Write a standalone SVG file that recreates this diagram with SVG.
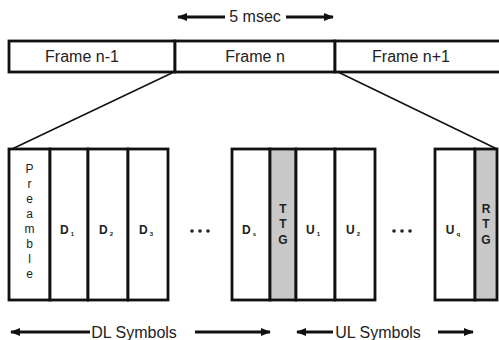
<svg xmlns="http://www.w3.org/2000/svg" width="499" height="340" viewBox="0 0 499 340">
<defs>
<marker id="ah" viewBox="0 0 10 10" refX="9" refY="5" markerWidth="10" markerHeight="10" markerUnits="userSpaceOnUse" orient="auto-start-reverse">
<path d="M0,1 L10,5 L0,9 Z" fill="#111"/>
</marker>
</defs>
<style>
text{font-family:"Liberation Sans",Arial,sans-serif;fill:#222;text-anchor:middle}
.lbl{font-size:16px}
.sym{font-size:12px}
.b{font-weight:bold}
.sub{font-size:6px}
.box{fill:#fff;stroke:#111;stroke-width:2.8}
.gray{fill:#c8c8c8;stroke:#111;stroke-width:2.8}
.arr{stroke:#111;stroke-width:2.8;fill:none}
.thin{stroke:#111;stroke-width:1.5;fill:none}
.dot{fill:#222}
</style>
<g id="duration">
<line class="arr" x1="225" y1="17" x2="178" y2="17" marker-end="url(#ah)"/>
<text class="lbl" x="255" y="22">5 msec</text>
<line class="arr" x1="286" y1="17" x2="333" y2="17" marker-end="url(#ah)"/>
</g>
<g id="frame-prev"><rect class="box" x="9" y="41" width="166" height="31"/><text class="lbl" x="82" y="62">Frame n-1</text></g>
<g id="frame-n"><rect class="box" x="175" y="41" width="160" height="31"/><text class="lbl" x="255" y="62">Frame n</text></g>
<g id="frame-next"><rect class="box" x="335" y="41" width="170" height="31"/><text class="lbl" x="411" y="62">Frame n+1</text></g>
<g id="connectors">
<line class="thin" x1="174" y1="72" x2="12" y2="149"/>
<line class="thin" x1="338" y1="72" x2="497" y2="149"/>
</g>
<g id="preamble"><rect class="box" x="9" y="149" width="41" height="151"/>
<text class="sym" x="29.5" y="173">P</text><text class="sym" x="29.5" y="188">r</text><text class="sym" x="29.5" y="203">e</text><text class="sym" x="29.5" y="218">a</text><text class="sym" x="29.5" y="233">m</text><text class="sym" x="29.5" y="248">b</text><text class="sym" x="29.5" y="263">l</text><text class="sym" x="29.5" y="278">e</text></g>
<g id="d1"><rect class="box" x="50" y="149" width="38" height="151"/><text class="sym b" x="67" y="234">D<tspan class="sub" dx="2" dy="2">1</tspan></text></g>
<g id="d2"><rect class="box" x="88" y="149" width="40" height="151"/><text class="sym b" x="106" y="234">D<tspan class="sub" dx="2" dy="2">2</tspan></text></g>
<g id="d3"><rect class="box" x="128" y="149" width="40" height="151"/><text class="sym b" x="146" y="234">D<tspan class="sub" dx="2" dy="2">3</tspan></text></g>
<g id="dots1"><circle class="dot" cx="192" cy="231" r="1.8"/><circle class="dot" cx="200" cy="231" r="1.8"/><circle class="dot" cx="208" cy="231" r="1.8"/></g>
<g id="ds"><rect class="box" x="232" y="149" width="38" height="151"/><text class="sym b" x="249" y="234">D<tspan class="sub" dx="2" dy="2">s</tspan></text></g>
<g id="ttg"><rect class="gray" x="270" y="149" width="26" height="151"/><text class="sym b" x="283" y="213">T</text><text class="sym b" x="283" y="228">T</text><text class="sym b" x="283" y="244">G</text></g>
<g id="u1"><rect class="box" x="296" y="149" width="39" height="151"/><text class="sym b" x="313" y="234">U<tspan class="sub" dx="2" dy="2">1</tspan></text></g>
<g id="u2"><rect class="box" x="335" y="149" width="40" height="151"/><text class="sym b" x="353" y="234">U<tspan class="sub" dx="2" dy="2">2</tspan></text></g>
<g id="dots2"><circle class="dot" cx="394" cy="231" r="1.8"/><circle class="dot" cx="402" cy="231" r="1.8"/><circle class="dot" cx="410" cy="231" r="1.8"/></g>
<g id="uq"><rect class="box" x="435" y="149" width="40" height="151"/><text class="sym b" x="453" y="234">U<tspan class="sub" dx="2" dy="2">q</tspan></text></g>
<g id="rtg"><rect class="gray" x="475" y="149" width="22" height="151"/><text class="sym b" x="486" y="213">R</text><text class="sym b" x="486" y="228">T</text><text class="sym b" x="486" y="244">G</text></g>
<g id="dl-symbols">
<line class="arr" x1="90" y1="332" x2="11" y2="332" marker-end="url(#ah)"/>
<text class="lbl" x="134" y="338">DL Symbols</text>
<line class="arr" x1="195" y1="332" x2="270" y2="332" marker-end="url(#ah)"/>
</g>
<g id="ul-symbols">
<line class="arr" x1="333" y1="332" x2="297" y2="332" marker-end="url(#ah)"/>
<text class="lbl" x="378" y="338">UL Symbols</text>
<line class="arr" x1="438" y1="332" x2="473" y2="332" marker-end="url(#ah)"/>
</g>
</svg>
